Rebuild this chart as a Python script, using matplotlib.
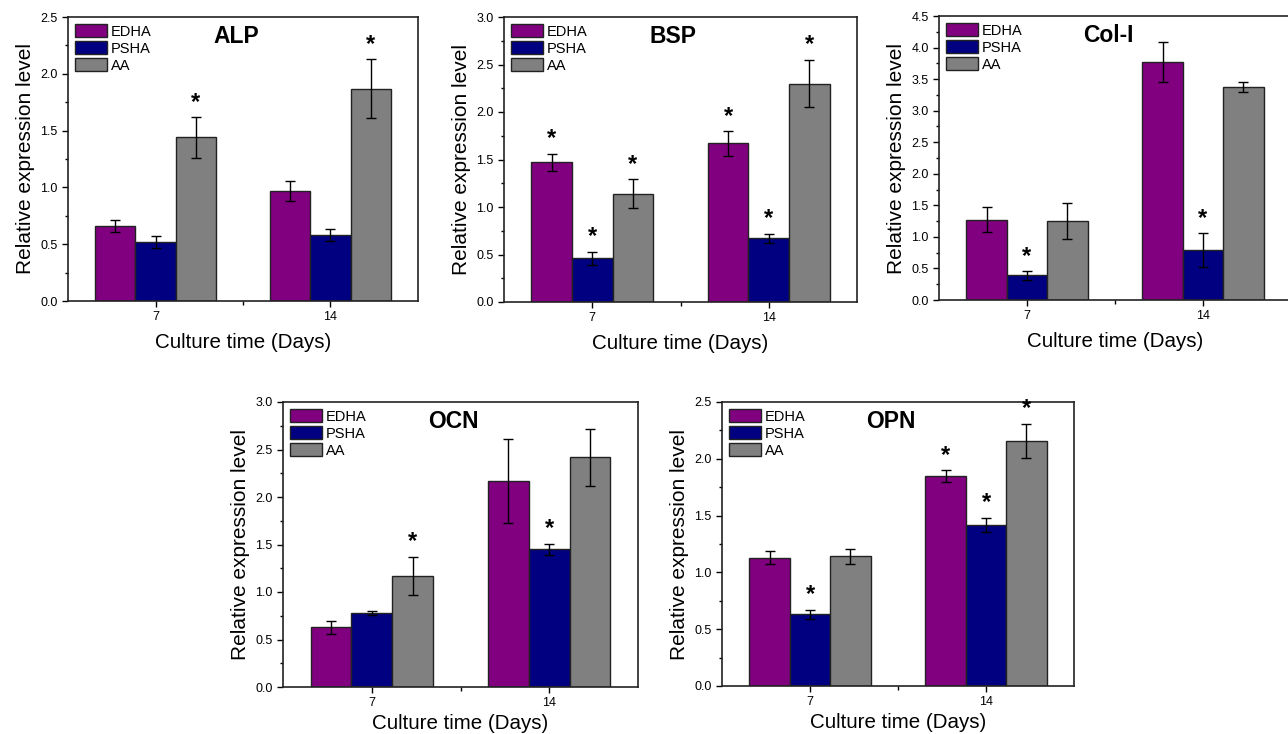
import numpy as np
import matplotlib
matplotlib.use("Agg")
import matplotlib.pyplot as plt
from matplotlib.ticker import MultipleLocator, FixedLocator, FormatStrFormatter

plt.rcParams['font.family'] = ['Liberation Sans', 'DejaVu Sans']

days = ['7', '14']
groups = ['EDHA', 'PSHA', 'AA']
colors = ['#800080', '#000080', '#808080']

# values per group: [day7, day14]
alp_mean = [[0.66, 0.97], [0.52, 0.58], [1.44, 1.87]]
alp_err = [[0.05, 0.09], [0.05, 0.05], [0.18, 0.26]]
alp_star = [[0, 0], [0, 0], [1, 1]]

bsp_mean = [[1.47, 1.67], [0.46, 0.67], [1.14, 2.30]]
bsp_err = [[0.09, 0.13], [0.07, 0.05], [0.15, 0.25]]
bsp_star = [[1, 1], [1, 1], [1, 1]]

col_mean = [[1.27, 3.77], [0.39, 0.79], [1.25, 3.38]]
col_err = [[0.20, 0.32], [0.07, 0.27], [0.28, 0.08]]
col_star = [[0, 0], [1, 1], [0, 0]]

ocn_mean = [[0.63, 2.17], [0.78, 1.45], [1.17, 2.42]]
ocn_err = [[0.07, 0.44], [0.02, 0.06], [0.20, 0.30]]
ocn_star = [[0, 0], [0, 1], [1, 0]]

opn_mean = [[1.13, 1.85], [0.63, 1.42], [1.14, 2.16]]
opn_err = [[0.06, 0.05], [0.04, 0.06], [0.07, 0.15]]
opn_star = [[0, 1], [1, 1], [0, 1]]

W, H = 1288, 734
fig = plt.figure(figsize=(W / 100, H / 100), dpi=100)


def panel(rect_px, title, mean, err, star, ymax, ystep, xpad=7):
    l, t, r, b = rect_px
    ax = fig.add_axes([l / W, 1 - b / H, (r - l) / W, (b - t) / H])
    x = np.arange(1, len(days) + 1)
    w = 0.23
    for i, g in enumerate(groups):
        pos = x + (i - 1) * w
        ax.bar(pos, mean[i], w, color=colors[i], edgecolor='#222222',
               linewidth=1.0, label=g, zorder=2)
        ax.errorbar(pos, mean[i], yerr=err[i], fmt='none', ecolor='black',
                    elinewidth=1.0, capsize=3.3, capthick=1.0, zorder=3)
        for j in range(len(days)):
            if star[i][j]:
                ax.text(pos[j], mean[i][j] + err[i][j] + ymax * 0.012, '*',
                        ha='center', va='bottom', fontsize=17,
                        fontweight='bold', zorder=4)
    ax.set_xlim(0.5, 2.5)
    ax.set_ylim(0, ymax)
    ax.set_xticks(x)
    ax.set_xticklabels(days)
    ax.xaxis.set_minor_locator(FixedLocator([1.5]))
    ax.yaxis.set_major_locator(MultipleLocator(ystep))
    ax.yaxis.set_minor_locator(MultipleLocator(ystep / 2))
    ax.yaxis.set_major_formatter(FormatStrFormatter('%.1f'))
    ax.tick_params(axis='both', which='major', direction='out', length=4,
                   width=1, labelsize=9, top=False, right=False)
    ax.tick_params(axis='both', which='minor', direction='out', length=2,
                   width=1, top=False, right=False)
    ax.tick_params(axis='x', which='minor', length=3)
    for s in ax.spines.values():
        s.set_linewidth(1.2)
        s.set_color('#222222')
    ax.set_ylabel('Relative expression level', fontsize=15, labelpad=4)
    ax.set_xlabel('Culture time (Days)', fontsize=14.8, labelpad=xpad)
    ax.text(0.48, 0.932, title, transform=ax.transAxes, ha='center',
            va='center', fontsize=16.5, fontweight='bold')
    ax.legend(loc='upper left', frameon=False, fontsize=10.5,
              handlelength=2.15, handleheight=1.0, labelspacing=0.17,
              handletextpad=0.3, borderaxespad=0.25, borderpad=0.25)
    return ax


panel((68, 17, 418, 301), 'ALP', alp_mean, alp_err, alp_star, 2.5, 0.5)
panel((504, 17, 857, 302), 'BSP', bsp_mean, bsp_err, bsp_star, 3.0, 0.5)
panel((939, 16, 1291, 300), 'Col-I', col_mean, col_err, col_star, 4.5, 0.5)
panel((283, 402, 638, 687), 'OCN', ocn_mean, ocn_err, ocn_star, 3.0, 0.5,
      xpad=3)
panel((722, 402, 1074, 686), 'OPN', opn_mean, opn_err, opn_star, 2.5, 0.5,
      xpad=3)

fig.savefig('out.png', dpi=100)
